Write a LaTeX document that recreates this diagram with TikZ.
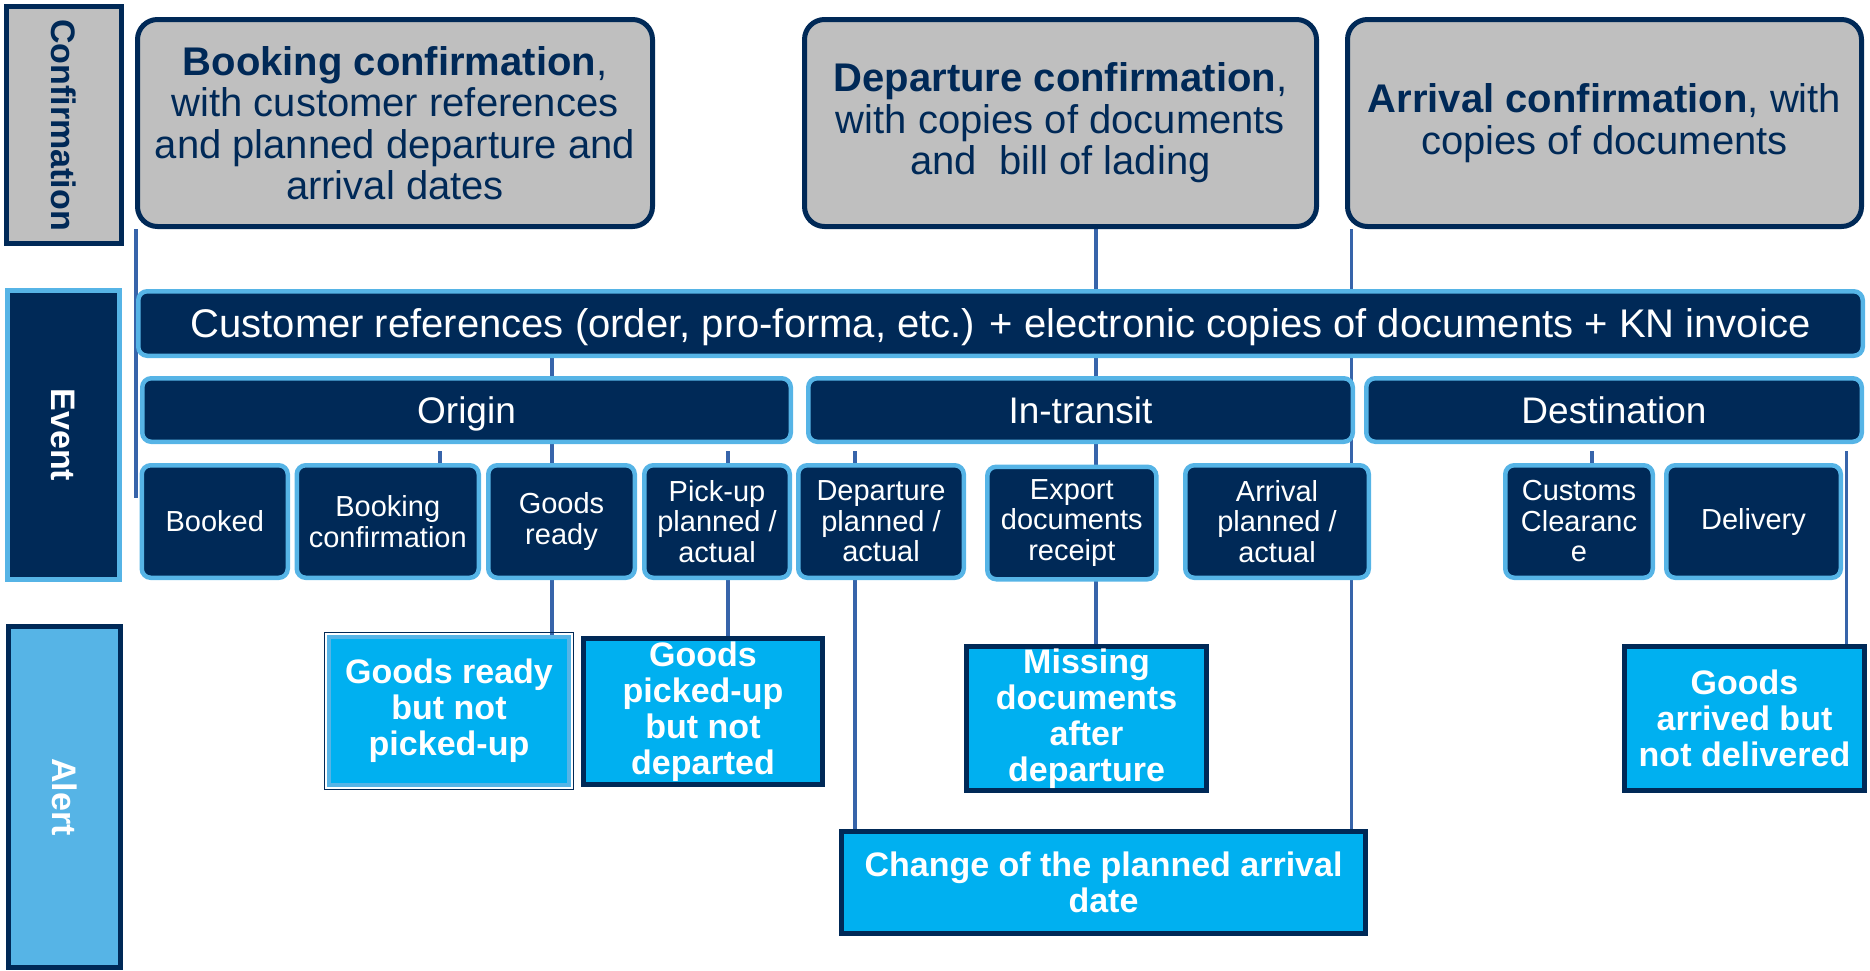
\documentclass[tikz,border=0pt]{standalone}
\usepackage{fontspec}
\setmainfont{Liberation Sans}
\definecolor{navy}{RGB}{0,41,87}
\definecolor{lblue}{RGB}{86,180,230}
\definecolor{abox}{RGB}{0,176,240}
\definecolor{cgray}{RGB}{191,191,191}
\definecolor{linkc}{RGB}{55,100,170}
\pgfdeclarelayer{bg}
\pgfsetlayers{bg,main}
\begin{document}
\begin{tikzpicture}[x=1pt,y=-1pt,
  side/.style={line width=5pt, inner sep=0pt, font=\bfseries\fontsize{34}{40}\selectfont, rotate=-90},
  conf/.style={draw=navy, line width=5pt, fill=cgray, rounded corners=20pt, text=navy, align=center, inner sep=0pt, font=\fontsize{40}{41.5}\selectfont},
  bar/.style={draw=lblue, line width=4.5pt, fill=navy, rounded corners=9pt, text=white, inner sep=0pt, text height=34.5pt, text depth=8pt, font=\fontsize{37}{40}\selectfont},
  evt/.style={draw=lblue, line width=4.5pt, fill=navy, rounded corners=9pt, text=white, inner sep=0pt, align=center, minimum height=112.5pt, font=\fontsize{29}{30.5}\selectfont},
  alert/.style={draw=navy, line width=5pt, fill=abox, text=white, align=center, inner sep=0pt, font=\bfseries\fontsize{34}{36}\selectfont},
  link/.style={draw=linkc, line width=3.5pt}]
\useasboundingbox (0,0) rectangle (1870,970);

% side labels
\node[side, draw=navy, fill=cgray, text=navy, minimum width=237pt, minimum height=115pt] (lconf) at (64,125) {Confirmation};
\node[side, draw=lblue, fill=navy, text=white, minimum width=289pt, minimum height=112pt] (levent) at (63.5,435) {Event};
\node[side, draw=navy, fill=lblue, text=white, minimum width=341pt, minimum height=112pt] (lalert) at (64.5,797) {Alert};

% confirmation boxes
\node[conf, minimum width=515pt, minimum height=207pt] (bconf) at (395,123)
  {\textbf{Booking confirmation},\\with customer references\\and planned departure and\\arrival dates};
\node[conf, minimum width=512pt, minimum height=207pt] (dconf) at (1060.5,123)
  {\textbf{Departure confirmation},\\with copies of documents\\and\ \ bill of lading};
\node[conf, minimum width=514pt, minimum height=207pt] (aconf) at (1604.5,123)
  {\textbf{Arrival confirmation}, with\\copies of documents};

% bars
\node[bar, minimum width=1724.5pt, minimum height=64.5pt, text height=36.6pt, font=\fontsize{40}{40}\selectfont] (cref) at (1000.5,323.5)
  {Customer references (order, pro-forma, etc.) + electronic copies of documents + KN invoice};
\node[bar, minimum width=648.5pt, minimum height=63.5pt] (orig) at (466.5,410) {Origin};
\node[bar, minimum width=544.5pt, minimum height=63.5pt] (trans) at (1080.5,410) {In-transit};
\node[bar, minimum width=495.5pt, minimum height=63.5pt] (dest) at (1614,410) {Destination};

% event boxes
\node[evt, minimum width=146pt] (bkd) at (214.75,521.5) {Booked};
\node[evt, minimum width=182pt] (bkc) at (387.75,521.5) {Booking\\confirmation};
\node[evt, minimum width=146.5pt] (grd) at (561.5,521.5) {Goods\\ready};
\node[evt, minimum width=145.5pt] (pku) at (717,521.5) {Pick-up\\planned /\\actual};
\node[evt, minimum width=165.5pt] (dep) at (881,521.5) {Departure\\planned /\\actual};
\node[evt, minimum width=169pt] (exp) at (1071.8,523) {Export\\documents\\receipt};
\node[evt, minimum width=183.5pt] (arr) at (1277,521.5) {Arrival\\planned /\\actual};
\node[evt, minimum width=147.5pt] (cus) at (1579,521.5) {Customs\\Clearanc\\e};
\node[evt, minimum width=174.5pt] (del) at (1753.5,521.5) {Delivery};

% alert boxes
\node[alert, draw=lblue, line width=4pt, minimum width=240pt, minimum height=148pt] (grnp) at (449,711) {Goods ready\\but not\\picked-up};
\draw[navy, line width=1.5pt] ([shift={(-2.5,-2.5)}]grnp.north west) rectangle ([shift={(2.5,2.5)}]grnp.south east);
\node[alert, minimum width=239pt, minimum height=146pt] (pnd) at (703,711.5) {Goods\\picked-up\\but not\\departed};
\node[alert, minimum width=240pt, minimum height=144pt] (miss) at (1086.5,718.5) {Missing\\documents\\after\\departure};
\node[alert, minimum width=524pt, minimum height=102pt] (chg) at (1103.5,882.5) {Change of the planned arrival\\date};
\node[alert, minimum width=240pt, minimum height=144pt] (arrd) at (1744.5,718.5) {Goods\\arrived but\\not delivered};

% connectors
\begin{pgfonlayer}{bg}
\coordinate (k1) at (136,498);
\coordinate (k2) at (1096,0);
\coordinate (k3) at (1351.5,0);
\coordinate (k4) at (552,0);
\coordinate (k5) at (440,451);
\coordinate (k6) at (728,451);
\coordinate (k7) at (855,451);
\coordinate (k8) at (1592,451);
\coordinate (k9) at (1846.5,451);
\draw[link] (k1 |- bconf.south) -- (k1);
\draw[link] (k2 |- dconf.south) -- (k2 |- miss.north);
\draw[link] (k3 |- aconf.south) -- (k3 |- chg.north);
\draw[link] (k4 |- cref.south) -- (k4 |- grnp.north);
\draw[link] (k5) -- (k5 |- bkc.north);
\draw[link] (k6) -- (k6 |- pnd.north);
\draw[link] (k7) -- (k7 |- chg.north);
\draw[link] (k8) -- (k8 |- cus.north);
\draw[link] (k9) -- (k9 |- arrd.north);
\end{pgfonlayer}
\end{tikzpicture}
\end{document}
